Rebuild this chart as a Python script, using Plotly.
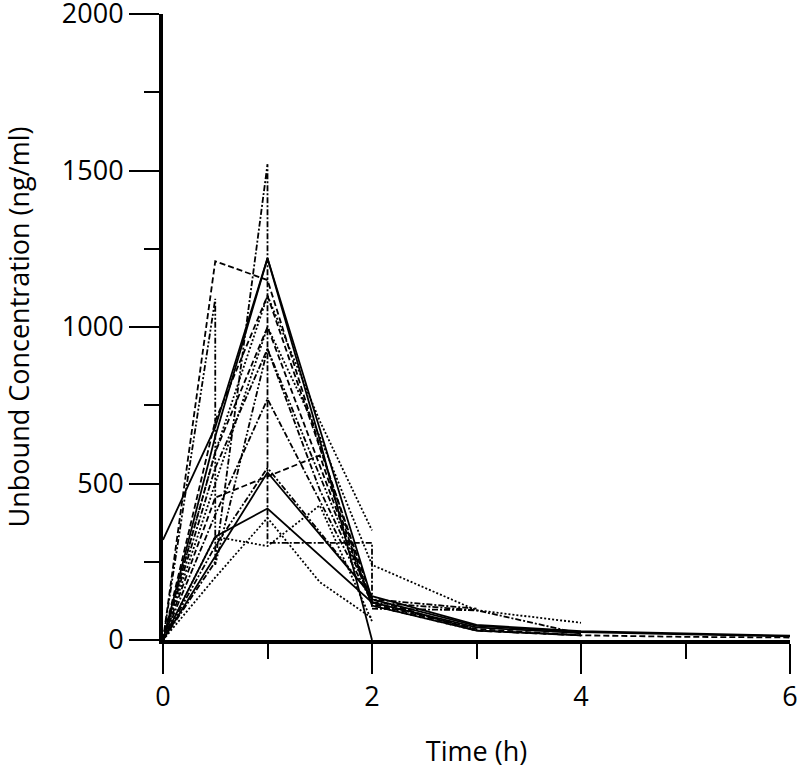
import plotly.graph_objects as go

# Individual subject profiles (time in h, unbound concentration in ng/ml)
s1_t = [0, 0.5, 1, 2, 3, 4, 5, 6]
s1_v = [320, 680, 1220, 130, 45, 25, 18, 12]
s2_t = [0, 0.5, 1, 1.5, 2]
s2_v = [0, 650, 1220, 640, 0]
s3_t = [0, 1, 2, 3, 4, 5, 6]
s3_v = [0, 535, 140, 48, 28, 20, 14]
s4_t = [0, 0.5, 1, 2, 3, 4]
s4_v = [0, 330, 420, 120, 40, 22]
s5_t = [0, 0.5, 1, 1.5, 2, 3, 4]
s5_v = [0, 1210, 1150, 620, 110, 30, 15]
s6_t = [0, 0.5, 1, 1, 2, 2, 3]
s6_v = [0, 250, 1520, 310, 310, 100, 95]
s7_t = [0, 0.5, 0.5, 1, 2, 3]
s7_v = [0, 1090, 240, 930, 120, 35]
s8_t = [0, 0.5, 1.5, 2, 3, 4]
s8_v = [0, 455, 590, 110, 30, 15]
s9_t = [0, 0.5, 1, 1.5, 2]
s9_v = [0, 330, 300, 430, 60]
s10_t = [0, 0.5, 1, 1.5, 2]
s10_v = [0, 200, 390, 185, 70]
s11_t = [0, 0.5, 1, 1.5, 2]
s11_v = [0, 600, 1100, 700, 350]
s12_t = [0, 0.5, 1, 1.5, 2, 3, 4]
s12_v = [0, 500, 1000, 650, 240, 95, 55]
s13_t = [0, 0.5, 1, 1.5, 2, 3]
s13_v = [0, 550, 930, 480, 130, 100]
s14_t = [0, 0.5, 1, 2, 3, 4]
s14_v = [0, 600, 1000, 115, 35, 15]
s15_t = [0, 0.5, 1, 2, 3, 4]
s15_v = [0, 400, 770, 120, 95, 20]
s16_t = [0, 0.5, 1, 2, 3, 4, 5, 6]
s16_v = [0, 700, 1100, 130, 30, 15, 10, 8]
s17_t = [0, 0.5, 1, 2]
s17_v = [0, 300, 550, 140]

x_tick_vals = [0, 2, 4, 6]
y_tick_vals = [0, 500, 1000, 1500, 2000]

SOLID = "solid"
DASH = "6px,3px"
DOT = "2px,2px"
DASHDOT = "6px,2px,2px,2px"
DASHDOTDOT = "6px,2px,2px,2px,2px,2px"

subjects = [
    (s1_t, s1_v, SOLID), (s2_t, s2_v, SOLID), (s3_t, s3_v, SOLID), (s4_t, s4_v, SOLID),
    (s5_t, s5_v, DASH), (s6_t, s6_v, DASHDOT), (s7_t, s7_v, DASHDOTDOT), (s8_t, s8_v, DASH),
    (s9_t, s9_v, DOT), (s10_t, s10_v, DOT), (s11_t, s11_v, DOT), (s12_t, s12_v, DOT),
    (s13_t, s13_v, DASHDOT), (s14_t, s14_v, DASH), (s15_t, s15_v, DASHDOT),
    (s16_t, s16_v, DASH), (s17_t, s17_v, DASHDOTDOT),
]

fig = go.Figure()
for t, v, d in subjects:
    fig.add_trace(go.Scatter(x=t, y=v, mode="lines",
                             line=dict(color="black", width=1.8, dash=d),
                             showlegend=False, hoverinfo="skip"))

font = dict(family="Open Sans, Noto Sans, sans-serif", size=27, color="black")
fig.update_layout(
    width=800, height=777,
    margin=dict(l=163, r=10, t=14, b=137),
    paper_bgcolor="white", plot_bgcolor="white",
    font=font,
    xaxis=dict(range=[0, 6], tickvals=x_tick_vals, ticktext=[str(v) for v in x_tick_vals],
               showline=True, linewidth=4, linecolor="black", automargin=False,
               ticklabeloverflow="allow",
               ticks="outside", ticklen=30, tickwidth=2, tickcolor="black",
               minor=dict(ticks="outside", ticklen=15, tickwidth=2, tickcolor="black", dtick=1, showgrid=False),
               showgrid=False, zeroline=False,
               title=dict(text="Time (h)", font=font, standoff=30)),
    yaxis=dict(range=[0, 2000], tickvals=y_tick_vals, ticktext=[str(v) for v in y_tick_vals],
               showline=True, linewidth=4, linecolor="black", automargin=False,
               ticklabeloverflow="allow",
               ticks="outside", ticklen=30, tickwidth=2, tickcolor="black",
               minor=dict(ticks="outside", ticklen=15, tickwidth=2, tickcolor="black", dtick=250, showgrid=False),
               showgrid=False, zeroline=False,
               title=dict(text="Unbound Concentration (ng/ml)", font=font, standoff=25)),
)

fig.write_html("out.html", config={"displayModeBar": False},
               post_script="document.body.style.margin='0';document.body.style.padding='0';")
